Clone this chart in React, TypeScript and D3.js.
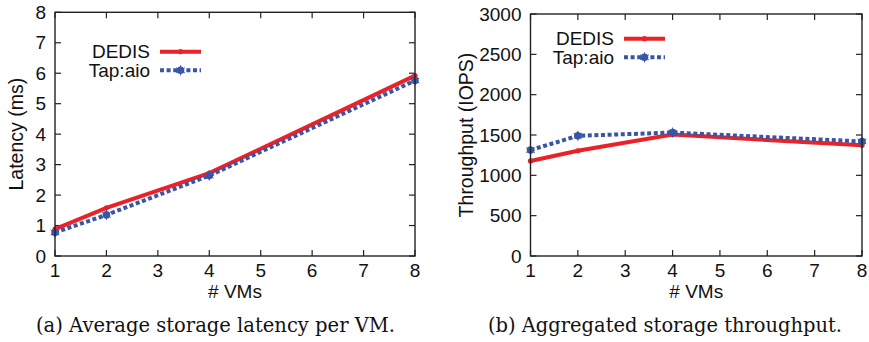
import React from "react";
import * as d3 from "d3";

const vms = [1, 2, 4, 8];
const xTicks = [1, 2, 3, 4, 5, 6, 7, 8];
const latencyDedis = [0.88, 1.58, 2.72, 5.92];
const latencyTap = [0.77, 1.35, 2.64, 5.76];
const latencyTicks = [0, 1, 2, 3, 4, 5, 6, 7, 8];
const tputDedis = [1178, 1305, 1505, 1372];
const tputTap = [1313, 1490, 1530, 1420];
const tputTicks = [0, 500, 1000, 1500, 2000, 2500, 3000];
const seriesNames = ["DEDIS", "Tap:aio"];

const RED = "#ea2227";
const BLUE = "#3a55a6";
const SANS = "'Liberation Sans', Arial, Helvetica, sans-serif";
const SERIF = "'DejaVu Serif', 'Liberation Serif', serif";

type PanelProps = {
  left: number; right: number; top: number; bottom: number;
  yMax: number; yTicks: number[]; dedis: number[]; tap: number[];
  yLabel: string; yLabelX: number; legendX: number; legendY: number;
  caption: string; captionX: number; captionW: number;
};

function Panel(p: PanelProps) {
  const x = d3.scaleLinear().domain([1, 8]).range([p.left, p.right]);
  const y = d3.scaleLinear().domain([0, p.yMax]).range([p.bottom, p.top]);
  const line = d3.line<number>().x((_, i) => x(vms[i])).y((d) => y(d));
  const tl = 6;
  const fs = 19;
  const star = d3.symbol().type(d3.symbolAsterisk).size(70)() as string;
  const lg = (i: number) => p.legendY + i * 18.6;
  return (
    <g>
      {xTicks.map((t) => (
        <g key={"xt" + t}>
          <line x1={x(t)} x2={x(t)} y1={p.bottom} y2={p.bottom - tl} stroke="#222" strokeWidth={1.2} />
          <line x1={x(t)} x2={x(t)} y1={p.top} y2={p.top + tl} stroke="#222" strokeWidth={1.2} />
          <text x={x(t)} y={p.bottom + 21} textAnchor="middle" fontSize={fs} fontFamily={SANS} fill="#111">{t}</text>
        </g>
      ))}
      {p.yTicks.map((t) => (
        <g key={"yt" + t}>
          <line x1={p.left} x2={p.left + tl} y1={y(t)} y2={y(t)} stroke="#222" strokeWidth={1.2} />
          <line x1={p.right} x2={p.right - tl} y1={y(t)} y2={y(t)} stroke="#222" strokeWidth={1.2} />
          <text x={p.left - 9} y={y(t) + 6.5} textAnchor="end" fontSize={fs} fontFamily={SANS} fill="#111">{t}</text>
        </g>
      ))}
      <path d={line(p.dedis) as string} fill="none" stroke={RED} strokeWidth={4} />
      {p.dedis.map((d, i) => (
        <circle key={"rd" + i} cx={x(vms[i])} cy={y(d)} r={2.6} fill={RED} />
      ))}
      <path d={line(p.tap) as string} fill="none" stroke={BLUE} strokeWidth={4} strokeDasharray="4,2.6" />
      {p.tap.map((d, i) => (
        <g key={"bd" + i} transform={`translate(${x(vms[i])},${y(d)})`}>
          <circle r={3.8} fill={BLUE} />
          <path d={star} fill={BLUE} stroke={BLUE} strokeWidth={1} />
        </g>
      ))}
      <rect x={p.left} y={p.top} width={p.right - p.left} height={p.bottom - p.top} fill="none" stroke="#222" strokeWidth={1.4} />
      {seriesNames.map((n, i) => (
        <text key={n} x={p.legendX - 10} y={lg(i) + 6.5} textAnchor="end" fontSize={fs} fontFamily={SANS} fill="#111">{n}</text>
      ))}
      <line x1={p.legendX} x2={p.legendX + 41} y1={lg(0)} y2={lg(0)} stroke={RED} strokeWidth={4} />
      <circle cx={p.legendX + 20.5} cy={lg(0)} r={2.6} fill={RED} />
      <line x1={p.legendX} x2={p.legendX + 41} y1={lg(1)} y2={lg(1)} stroke={BLUE} strokeWidth={4} strokeDasharray="4,2.6" />
      <g transform={`translate(${p.legendX + 20.5},${lg(1)})`}>
        <circle r={3.8} fill={BLUE} />
        <path d={star} fill={BLUE} stroke={BLUE} strokeWidth={1} />
      </g>
      <text x={(p.left + p.right) / 2} y={p.bottom + 42} textAnchor="middle" fontSize={fs} fontFamily={SANS} fill="#111"># VMs</text>
      <text transform={`translate(${p.yLabelX},${(p.top + p.bottom) / 2}) rotate(-90)`} textAnchor="middle" dy="0.35em" fontSize={fs + 0.5} fontFamily={SANS} fill="#111">{p.yLabel}</text>
      <text x={p.captionX} y={332} fontSize={20} fontFamily={SERIF} fill="#111" textLength={p.captionW} lengthAdjust="spacingAndGlyphs">{p.caption}</text>
    </g>
  );
}

export default function App() {
  return (
    <svg width={869} height={342} style={{ position: "absolute", left: 0, top: 0, background: "#fff" }}>
      <rect width={869} height={342} fill="#fff" />
      <Panel left={55} right={415} top={12.3} bottom={256} yMax={8} yTicks={latencyTicks}
        dedis={latencyDedis} tap={latencyTap} yLabel="Latency (ms)" yLabelX={16}
        legendX={160} legendY={51.7} caption="(a) Average storage latency per VM." captionX={36} captionW={359} />
      <Panel left={530.5} right={862} top={14} bottom={256} yMax={3000} yTicks={tputTicks}
        dedis={tputDedis} tap={tputTap} yLabel="Throughput (IOPS)" yLabelX={466}
        legendX={624} legendY={38.7} caption="(b) Aggregated storage throughput." captionX={488} captionW={354} />
    </svg>
  );
}
